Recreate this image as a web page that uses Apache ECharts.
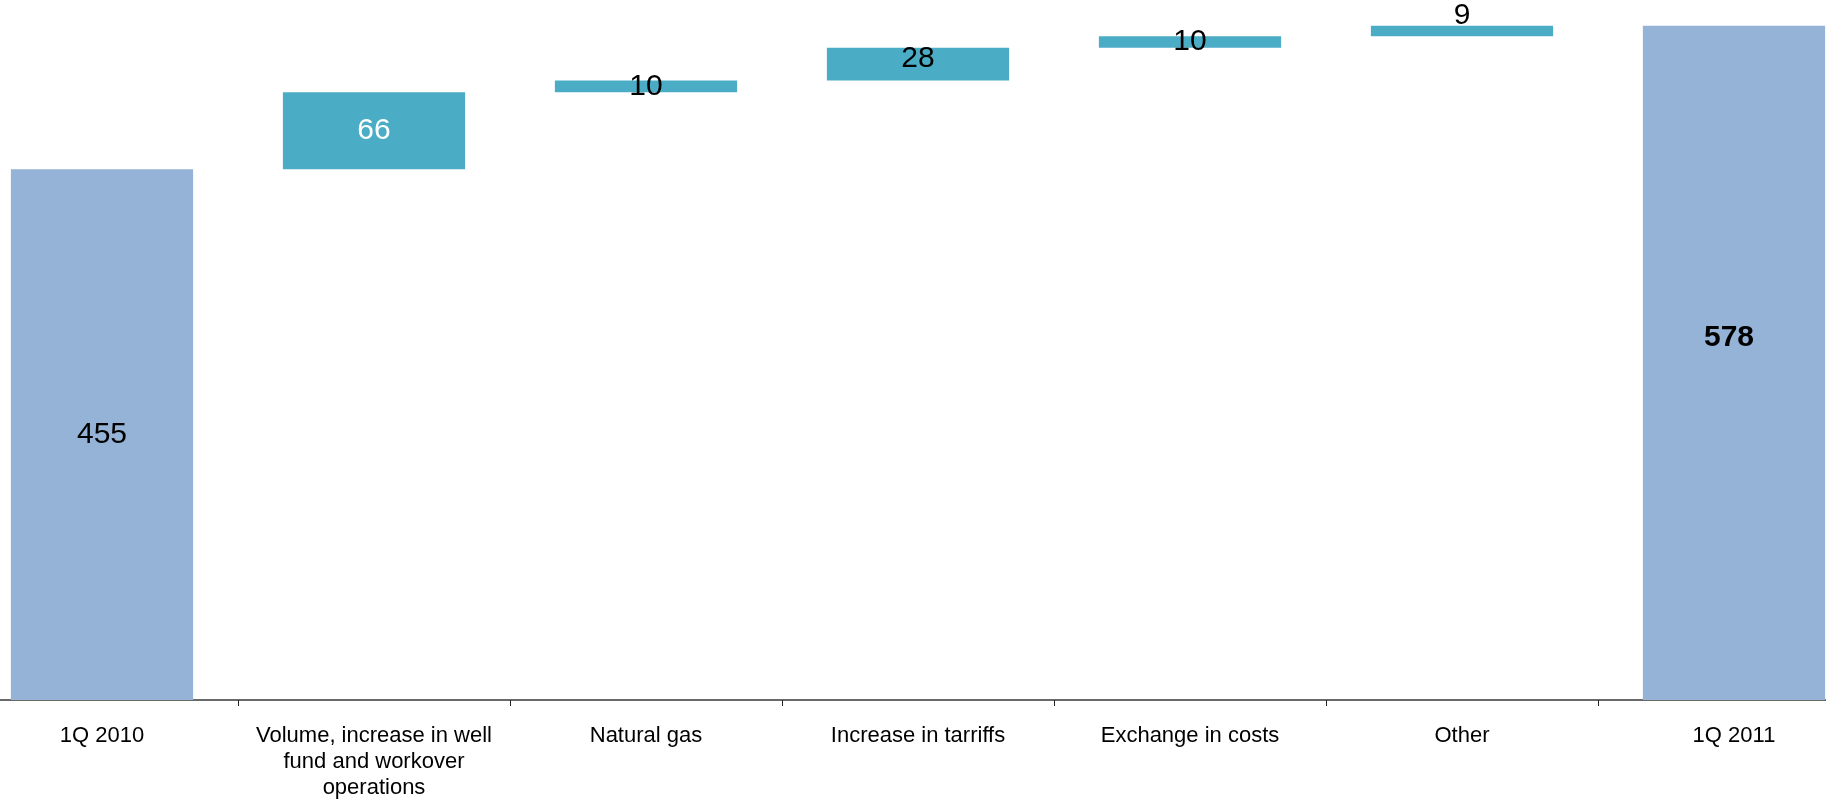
<!DOCTYPE html>
<html>
<head>
<meta charset="utf-8">
<title>1Q 2010 – 1Q 2011 bridge</title>
<script src="https://cdn.jsdelivr.net/npm/echarts@6/dist/echarts.min.js"></script>
<style>
  html, body { margin: 0; padding: 0; background: #fff; overflow: hidden; }
  /* the plot is wider than the window: first and last bars sit partly off the edges */
  #chart { width: 1904px; height: 801px; margin-left: -34px; }
</style>
</head>
<body>
<div id="chart"></div>
<script>
// categories along the x axis
const categories = [
  '1Q 2010',
  'Volume, increase in well\nfund and workover\noperations',
  'Natural gas',
  'Increase in tarriffs',
  'Exchange in costs',
  'Other',
  '1Q 2011',
]
// bar values (first and last are totals, the rest are increments)
const values = [455, 66, 10, 28, 10, 9, 578]
const isTotal = [true, false, false, false, false, false, true]

const TOTAL_COLOR = '#95b3d7'
const STEP_COLOR = '#4bacc6'
const FONT = '"Liberation Sans", Arial, sans-serif'

// invisible base under each floating bar = running sum so far
const bases = []
let running = 0
values.forEach((v, i) => {
  if (isTotal[i]) {
    bases.push(0)
    running = v
  } else {
    bases.push(running)
    running += v
  }
})

// per-bar label tweaks
const labelStyles = [
  { position: 'inside', color: '#000' },
  { position: 'inside', color: '#fff' },
  { position: 'inside', color: '#000' },
  { position: 'inside', color: '#000', offset: [0, -5] },
  { position: 'inside', color: '#000' },
  { position: 'top', distance: -5, color: '#000' },
  { position: 'inside', color: '#000', fontWeight: 'bold', offset: [-5, -25] },
]

const chart = echarts.init(document.getElementById('chart'))

chart.setOption({
  animation: false,
  grid: { left: 0, right: 0, top: 0, bottom: 100 },
  xAxis: {
    type: 'category',
    data: categories,
    axisLine: { show: true, lineStyle: { color: '#6a6a6a', width: 2 } },
    axisTick: { show: true, length: 6, lineStyle: { color: '#222', width: 1 } },
    axisLabel: {
      interval: 0,
      margin: 23,
      fontFamily: FONT,
      fontSize: 22,
      lineHeight: 26,
      color: '#000',
    },
  },
  yAxis: {
    type: 'value',
    min: 0,
    max: 600,
    show: false,
    splitLine: { show: false },
  },
  series: [
    {
      name: 'base',
      type: 'bar',
      stack: 'wf',
      silent: true,
      barWidth: '67%',
      itemStyle: { color: 'transparent' },
      data: bases,
    },
    {
      name: 'value',
      type: 'bar',
      stack: 'wf',
      barWidth: '67%',
      data: values.map((v, i) => ({
        value: v,
        itemStyle: { color: isTotal[i] ? TOTAL_COLOR : STEP_COLOR },
        label: {
          show: true,
          fontFamily: FONT,
          fontSize: 30,
          ...labelStyles[i],
        },
      })),
    },
  ],
})
</script>
</body>
</html>
